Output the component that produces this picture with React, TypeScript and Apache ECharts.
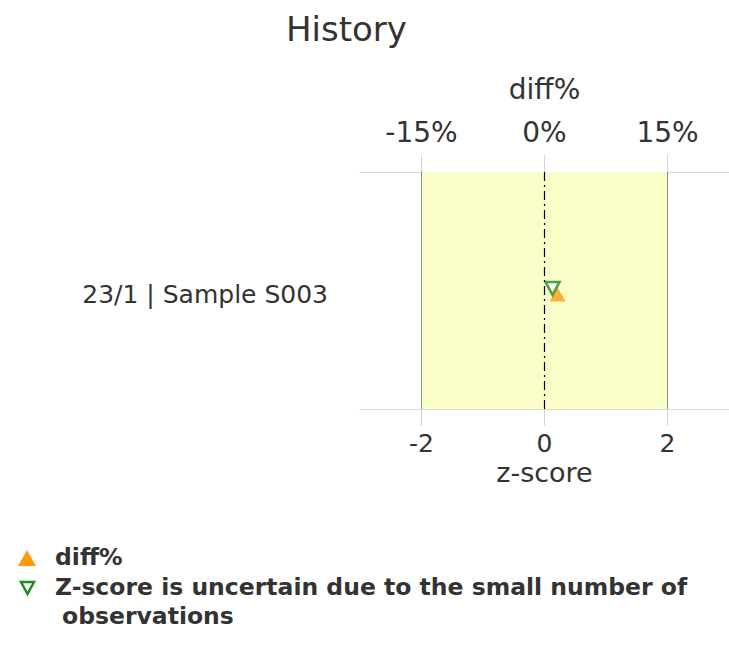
import React, { useEffect, useRef } from "react";
import * as echarts from "echarts";

const categories = ["23/1 | Sample S003"];
const diffPercent = [1.6];
const zScoreUncertain = [0.13];
const zTicks = [-2, 0, 2];
const diffTicks = [-15, 0, 15];
const zRange = [-3, 3];
const diffRange = [-22.5, 22.5];
const acceptBand = [-2, 2];
const legendNames = ["diff%", "Z-score is uncertain due to the small number of", "observations"];

const FONT = "DejaVu Sans";
const TXT = "#333333";
const ORANGE = "#FF9A0A";
const GREEN = "#1E8C1E";

export default function App() {
  const ref = useRef<HTMLDivElement>(null);
  useEffect(() => {
    if (!ref.current) return;
    const chart = echarts.init(ref.current, null, { renderer: "svg" });
    const option: any = {
      animation: false,
      backgroundColor: "#ffffff",
      textStyle: { fontFamily: FONT },
      title: {
        text: "History",
        left: 286,
        top: 12,
        padding: 0,
        textStyle: { fontFamily: FONT, fontSize: 34, fontWeight: "normal", color: TXT },
      },
      grid: { left: 360, right: 0, top: 172, bottom: 237, containLabel: false },
      xAxis: [
        {
          type: "value",
          position: "bottom",
          min: zRange[0],
          max: zRange[1],
          name: "z-score",
          nameLocation: "middle",
          nameGap: 49.5,
          nameTextStyle: { fontFamily: FONT, fontSize: 27, lineHeight: 27, color: TXT },
          axisLine: { show: true, onZero: false, lineStyle: { color: "#D8D8D8", width: 1 } },
          axisTick: { show: true, customValues: zTicks, length: 17, lineStyle: { color: "#C9D7E8", width: 1 } },
          axisLabel: { customValues: zTicks, fontFamily: FONT, fontSize: 25, lineHeight: 25, color: TXT, margin: 21.5 },
          splitLine: { show: false },
        },
        {
          type: "value",
          position: "top",
          min: diffRange[0],
          max: diffRange[1],
          name: "diff%",
          nameLocation: "middle",
          nameGap: 69,
          nameTextStyle: { fontFamily: FONT, fontSize: 28, color: TXT },
          axisLine: { show: true, onZero: false, lineStyle: { color: "#D8D8D8", width: 1 } },
          axisTick: { show: true, customValues: diffTicks, length: 17, lineStyle: { color: "#C9D7E8", width: 1 } },
          axisLabel: {
            customValues: diffTicks,
            fontFamily: FONT,
            fontSize: 28,
            color: TXT,
            margin: 26,
            formatter: (v: number) => `${v}%`,
          },
          splitLine: { show: false },
        },
      ],
      yAxis: {
        type: "category",
        data: categories,
        axisLine: { show: false },
        axisTick: { show: false },
        axisLabel: {
          fontFamily: FONT,
          fontSize: 25,
          color: TXT,
          margin: 32,
          formatter: (v: string) => `{a|${v}}`,
          rich: { a: { fontFamily: FONT, fontSize: 25, color: TXT, padding: [7, 0, 0, 0] } },
        },
        splitLine: { show: false },
      },
      series: [
        {
          name: "band",
          type: "scatter",
          xAxisIndex: 0,
          data: [],
          silent: true,
          markArea: {
            silent: true,
            itemStyle: { color: "#FAFDC8" },
            data: [[{ xAxis: acceptBand[0] }, { xAxis: acceptBand[1] }]],
          },
          markLine: {
            silent: true,
            symbol: "none",
            label: { show: false },
            data: [
              { xAxis: acceptBand[0], lineStyle: { color: "#8C8C8C", width: 1, type: "solid" } },
              { xAxis: acceptBand[1], lineStyle: { color: "#8C8C8C", width: 1, type: "solid" } },
              { xAxis: 0, lineStyle: { color: "#000000", width: 1.2, type: [9, 4, 2, 4] } },
            ],
          },
        },
        {
          name: legendNames[0],
          type: "scatter",
          xAxisIndex: 1,
          symbol: "triangle",
          symbolSize: [16, 14],
          symbolOffset: [0, 4],
          itemStyle: { color: ORANGE },
          data: diffPercent.map((v, i) => [v, categories[i]]),
        },
        {
          name: legendNames[1],
          type: "scatter",
          xAxisIndex: 0,
          symbol: "triangle",
          symbolRotate: 180,
          symbolSize: [14, 13],
          symbolOffset: [0, -2],
          itemStyle: { color: "#ffffff", borderColor: GREEN, borderWidth: 2.5 },
          data: zScoreUncertain.map((v, i) => [v, categories[i]]),
        },
      ],
      graphic: [
        {
          type: "polygon",
          shape: { points: [[27, 550], [36, 566], [18, 566]] },
          style: { fill: ORANGE },
        },
        {
          type: "text",
          left: 55,
          top: 545,
          style: { text: legendNames[0], font: `bold 23.5px "${FONT}"`, fill: TXT },
        },
        {
          type: "polygon",
          shape: { points: [[21, 582], [34, 582], [27.5, 594]] },
          style: { fill: "#ffffff", stroke: GREEN, lineWidth: 2.5 },
        },
        {
          type: "text",
          left: 55,
          top: 575,
          style: { text: legendNames[1], font: `bold 23.5px "${FONT}"`, fill: TXT },
        },
        {
          type: "text",
          left: 62,
          top: 604,
          style: { text: legendNames[2], font: `bold 23.5px "${FONT}"`, fill: TXT },
        },
      ],
    };
    chart.setOption(option);
    return () => chart.dispose();
  }, []);
  return <div ref={ref} style={{ position: "fixed", left: 0, top: 0, width: 729, height: 646 }} />;
}
